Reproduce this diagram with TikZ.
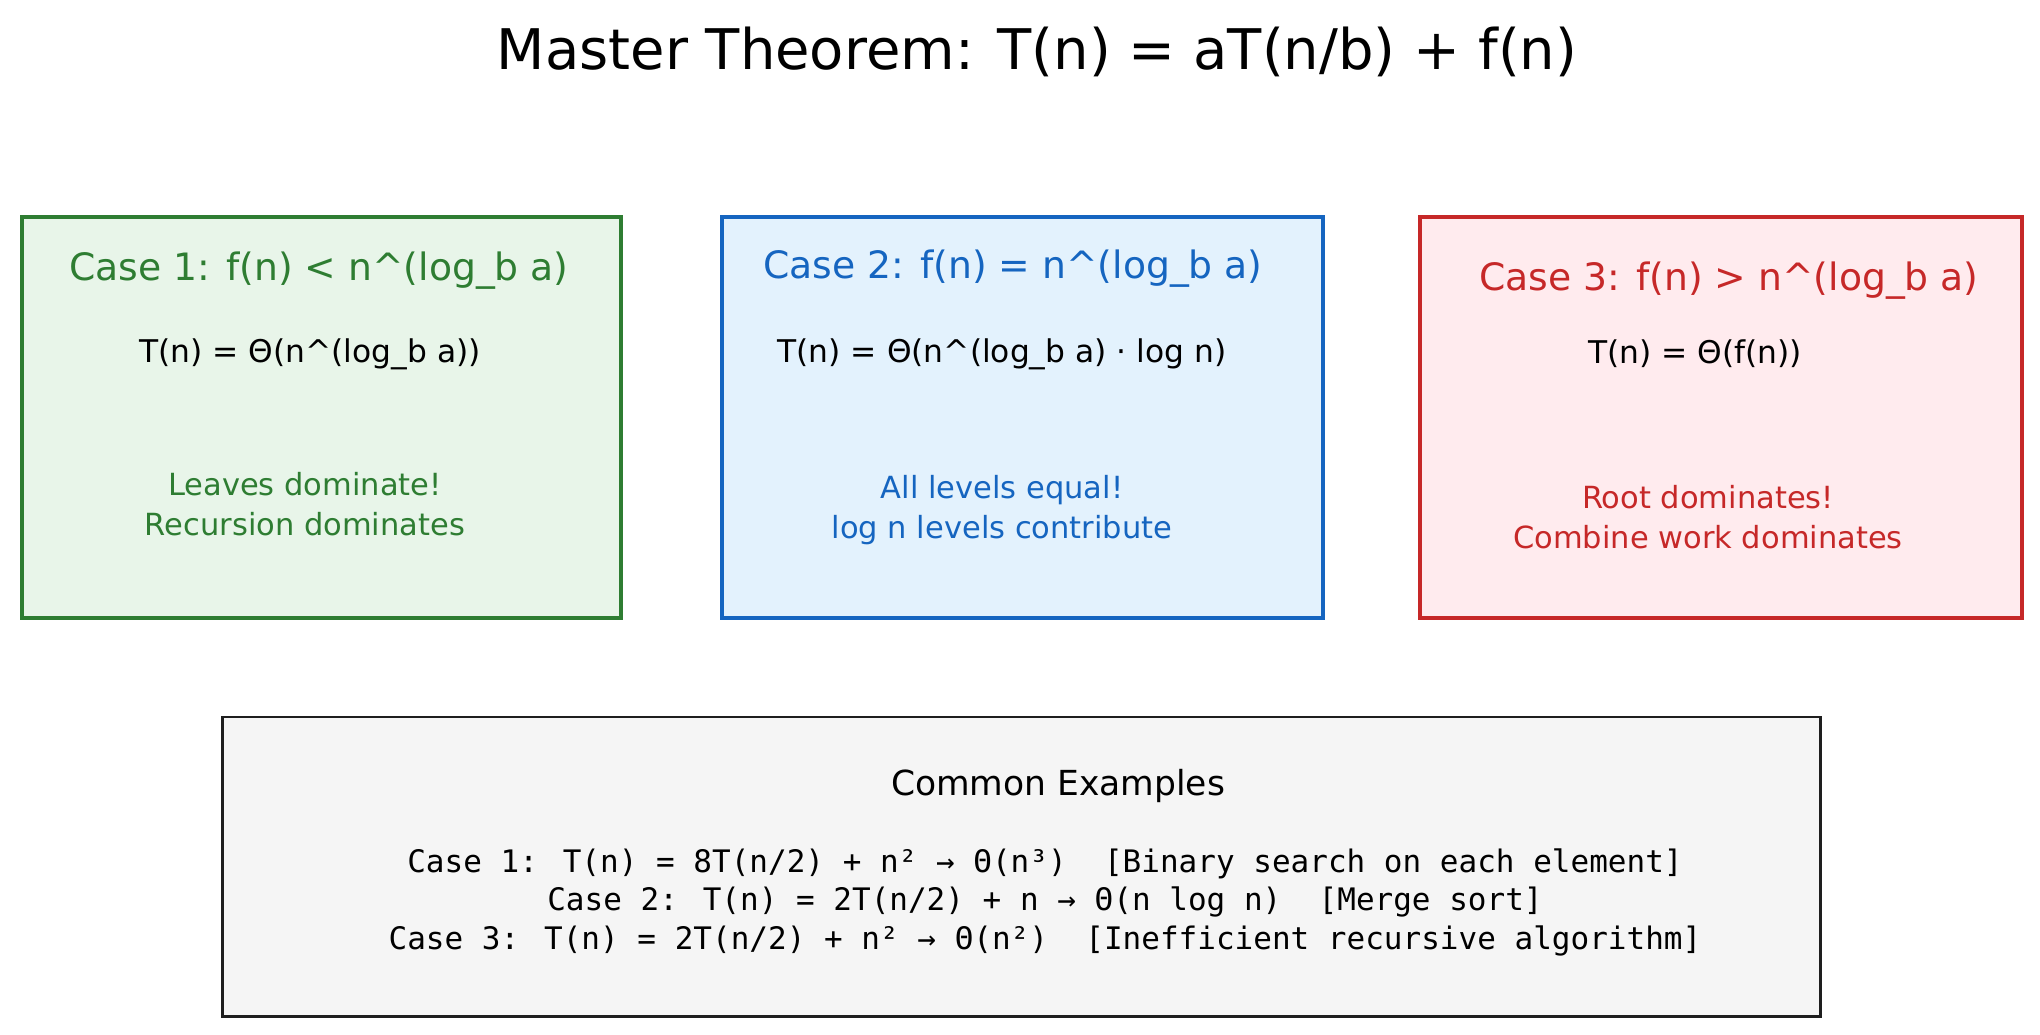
\documentclass[tikz,border=0pt]{standalone}
\usepackage{fontspec}
\setmainfont{DejaVu Sans}
\newfontfamily\monof{DejaVu Sans Mono}
\definecolor{gstroke}{HTML}{2E7D32}
\definecolor{gfill}{HTML}{E8F5E9}
\definecolor{bstroke}{HTML}{1565C0}
\definecolor{bfill}{HTML}{E3F2FD}
\definecolor{rstroke}{HTML}{C62828}
\definecolor{rfill}{HTML}{FFEBEE}
\definecolor{kstroke}{HTML}{1E1E1E}
\definecolor{kfill}{HTML}{F5F5F5}
\begin{document}
\begin{tikzpicture}[x=1pt,y=-1pt,
  casebox/.style={draw, line width=4pt, anchor=north west, inner sep=0pt, minimum height=400.8pt},
  casetitle/.style={font=\fontsize{37.7}{44}\selectfont, inner sep=0pt},
  formula/.style={font=\fontsize{31.3}{36}\selectfont, text=black, inner sep=0pt},
  note/.style={font=\fontsize{30.5}{40}\selectfont, align=center, inner sep=0pt},
  example/.style={font=\monof\fontsize{31}{38.5}\selectfont, align=center, inner sep=0pt, text=black}]
\useasboundingbox[fill=white] (0,0) rectangle (2040,1035);
% title
\node[font=\fontsize{56}{62}\selectfont, inner sep=0pt] (title) at (1037,52) {Master Theorem: T(n) = aT(n/b) + f(n)};
% case boxes
\node[casebox, draw=gstroke, fill=gfill, minimum width=599.5pt] (c1) at (19.5,214.7) {};
\node[casebox, draw=bstroke, fill=bfill, minimum width=601pt] (c2) at (719.5,214.7) {};
\node[casebox, draw=rstroke, fill=rfill, minimum width=602pt] (c3) at (1418,214.7) {};
% case 1
\node[casetitle, text=gstroke] (c1t) at (319,271) {Case 1: f(n) < n\^{}(log\_b a)};
\node[formula] (c1f) at (310,354) {T(n) = Θ(n\^{}(log\_b a))};
\node[note, text=gstroke] (c1n) at (305,504) {Leaves dominate!\\Recursion dominates};
% case 2
\node[casetitle, text=bstroke] (c2t) at (1013,269) {Case 2: f(n) = n\^{}(log\_b a)};
\node[formula] (c2f) at (1002,354) {T(n) = Θ(n\^{}(log\_b a) · log n)};
\node[note, text=bstroke] (c2n) at (1002,510) {All levels equal!\\log n levels contribute};
% case 3
\node[casetitle, text=rstroke] (c3t) at (1729,281) {Case 3: f(n) > n\^{}(log\_b a)};
\node[formula] (c3f) at (1695,354) {T(n) = Θ(f(n))};
\node[note, text=rstroke] (c3n) at (1708,517) {Root dominates!\\Combine work dominates};
% examples box
\node[draw=kstroke, fill=kfill, line width=2.5pt, anchor=north west, inner sep=0pt, minimum width=1598pt, minimum height=299.5pt] (ex) at (221,715.5) {};
\node[font=\fontsize{34.5}{40}\selectfont, inner sep=0pt] (ext) at (1058,786) {Common Examples};
\node[example] (exl) at (1045,902) {Case 1: T(n) = 8T(n/2) + n² → Θ(n³)~~[Binary search on each element]\\
Case 2: T(n) = 2T(n/2) + n → Θ(n log n)~~[Merge sort]\\
Case 3: T(n) = 2T(n/2) + n² → Θ(n²)~~[Inefficient recursive algorithm]};
\end{tikzpicture}
\end{document}
